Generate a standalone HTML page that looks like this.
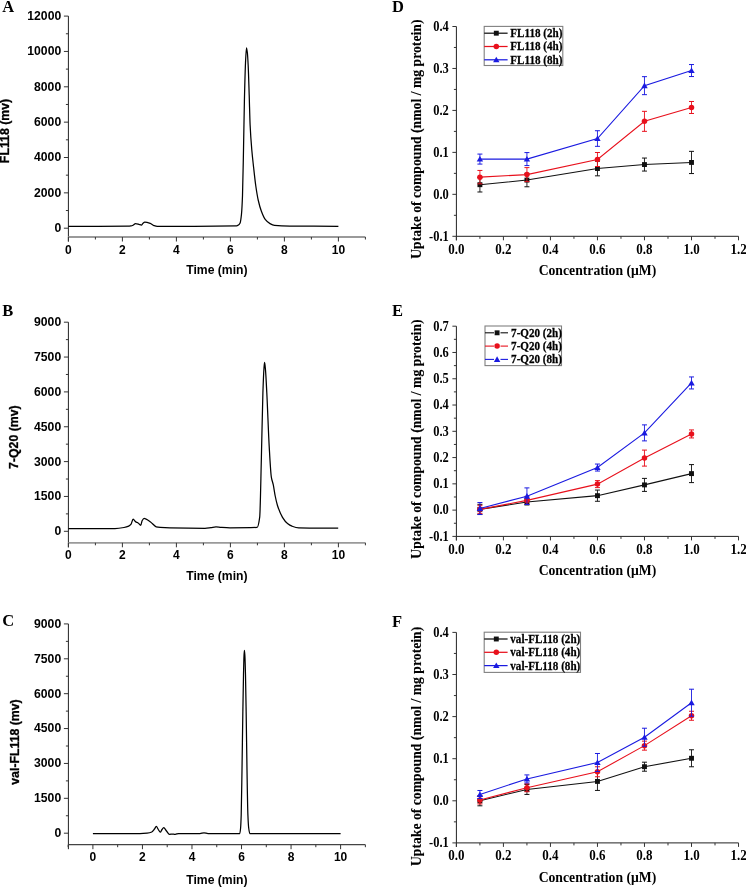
<!DOCTYPE html>
<html><head><meta charset="utf-8"><style>
html,body{margin:0;padding:0;background:#fff;}
body{width:746px;height:887px;overflow:hidden;}
svg{display:block;will-change:transform;}
</style></head><body>
<svg width="746" height="887" viewBox="0 0 746 887">
<rect width="746" height="887" fill="#fff"/>
<line x1="68.40" y1="16.10" x2="68.40" y2="241.50" stroke="#222" stroke-width="1.0"/>
<line x1="63.90" y1="228.20" x2="68.40" y2="228.20" stroke="#333" stroke-width="1.0"/>
<text x="61.20" y="232.10" font-family='"Liberation Sans", sans-serif' font-size="12.2" font-weight="bold" text-anchor="end" fill="#000" >0</text>
<line x1="65.90" y1="210.52" x2="68.40" y2="210.52" stroke="#333" stroke-width="1.0"/>
<line x1="63.90" y1="192.85" x2="68.40" y2="192.85" stroke="#333" stroke-width="1.0"/>
<text x="61.20" y="196.75" font-family='"Liberation Sans", sans-serif' font-size="12.2" font-weight="bold" text-anchor="end" fill="#000" >2000</text>
<line x1="65.90" y1="175.17" x2="68.40" y2="175.17" stroke="#333" stroke-width="1.0"/>
<line x1="63.90" y1="157.50" x2="68.40" y2="157.50" stroke="#333" stroke-width="1.0"/>
<text x="61.20" y="161.40" font-family='"Liberation Sans", sans-serif' font-size="12.2" font-weight="bold" text-anchor="end" fill="#000" >4000</text>
<line x1="65.90" y1="139.82" x2="68.40" y2="139.82" stroke="#333" stroke-width="1.0"/>
<line x1="63.90" y1="122.15" x2="68.40" y2="122.15" stroke="#333" stroke-width="1.0"/>
<text x="61.20" y="126.05" font-family='"Liberation Sans", sans-serif' font-size="12.2" font-weight="bold" text-anchor="end" fill="#000" >6000</text>
<line x1="65.90" y1="104.47" x2="68.40" y2="104.47" stroke="#333" stroke-width="1.0"/>
<line x1="63.90" y1="86.80" x2="68.40" y2="86.80" stroke="#333" stroke-width="1.0"/>
<text x="61.20" y="90.70" font-family='"Liberation Sans", sans-serif' font-size="12.2" font-weight="bold" text-anchor="end" fill="#000" >8000</text>
<line x1="65.90" y1="69.12" x2="68.40" y2="69.12" stroke="#333" stroke-width="1.0"/>
<line x1="63.90" y1="51.45" x2="68.40" y2="51.45" stroke="#333" stroke-width="1.0"/>
<text x="61.20" y="55.35" font-family='"Liberation Sans", sans-serif' font-size="12.2" font-weight="bold" text-anchor="end" fill="#000" >10000</text>
<line x1="65.90" y1="33.78" x2="68.40" y2="33.78" stroke="#333" stroke-width="1.0"/>
<line x1="63.90" y1="16.10" x2="68.40" y2="16.10" stroke="#333" stroke-width="1.0"/>
<text x="61.20" y="20.00" font-family='"Liberation Sans", sans-serif' font-size="12.2" font-weight="bold" text-anchor="end" fill="#000" >12000</text>
<line x1="68.40" y1="237.00" x2="365.40" y2="237.00" stroke="#9a9a9a" stroke-width="1.8"/>
<line x1="68.40" y1="237.00" x2="68.40" y2="241.50" stroke="#333" stroke-width="1.0"/>
<text x="68.40" y="253.60" font-family='"Liberation Sans", sans-serif' font-size="12" font-weight="bold" text-anchor="middle" fill="#000" >0</text>
<line x1="95.40" y1="237.00" x2="95.40" y2="239.50" stroke="#333" stroke-width="1.0"/>
<line x1="122.40" y1="237.00" x2="122.40" y2="241.50" stroke="#333" stroke-width="1.0"/>
<text x="122.40" y="253.60" font-family='"Liberation Sans", sans-serif' font-size="12" font-weight="bold" text-anchor="middle" fill="#000" >2</text>
<line x1="149.40" y1="237.00" x2="149.40" y2="239.50" stroke="#333" stroke-width="1.0"/>
<line x1="176.40" y1="237.00" x2="176.40" y2="241.50" stroke="#333" stroke-width="1.0"/>
<text x="176.40" y="253.60" font-family='"Liberation Sans", sans-serif' font-size="12" font-weight="bold" text-anchor="middle" fill="#000" >4</text>
<line x1="203.40" y1="237.00" x2="203.40" y2="239.50" stroke="#333" stroke-width="1.0"/>
<line x1="230.40" y1="237.00" x2="230.40" y2="241.50" stroke="#333" stroke-width="1.0"/>
<text x="230.40" y="253.60" font-family='"Liberation Sans", sans-serif' font-size="12" font-weight="bold" text-anchor="middle" fill="#000" >6</text>
<line x1="257.40" y1="237.00" x2="257.40" y2="239.50" stroke="#333" stroke-width="1.0"/>
<line x1="284.40" y1="237.00" x2="284.40" y2="241.50" stroke="#333" stroke-width="1.0"/>
<text x="284.40" y="253.60" font-family='"Liberation Sans", sans-serif' font-size="12" font-weight="bold" text-anchor="middle" fill="#000" >8</text>
<line x1="311.40" y1="237.00" x2="311.40" y2="239.50" stroke="#333" stroke-width="1.0"/>
<line x1="338.40" y1="237.00" x2="338.40" y2="241.50" stroke="#333" stroke-width="1.0"/>
<text x="338.40" y="253.60" font-family='"Liberation Sans", sans-serif' font-size="12" font-weight="bold" text-anchor="middle" fill="#000" >10</text>
<line x1="365.40" y1="237.00" x2="365.40" y2="239.50" stroke="#333" stroke-width="1.0"/>
<text x="216.90" y="274.20" font-family='"Liberation Sans", sans-serif' font-size="12.2" font-weight="bold" text-anchor="middle" fill="#000" >Time (min)</text>
<text transform="translate(9.20,131.00) rotate(-90)" x="0" y="0" font-family='"Liberation Sans", sans-serif' font-size="12.3" font-weight="bold" text-anchor="middle" fill="#000" stroke="#000" stroke-width="0.3">FL118 (mv)</text>
<text transform="translate(2.30,12.00) scale(1,1.03)" x="0" y="0" font-family='"Liberation Serif", serif' font-size="16.5" font-weight="bold" text-anchor="start" fill="#000" >A</text>
<path d="M68.40,226.30 C88.27,226.27 108.13,226.29 128.00,226.20 C129.00,226.20 130.00,226.06 131.00,225.90 C131.67,225.79 132.33,225.50 133.00,225.20 C133.83,224.83 134.67,223.60 135.50,223.60 C136.63,223.60 137.77,224.01 138.90,224.30 C139.73,224.51 140.57,225.10 141.40,225.10 C141.93,225.10 142.47,223.63 143.00,223.20 C143.60,222.71 144.20,222.10 144.80,222.10 C146.60,222.10 148.40,222.70 150.20,223.30 C151.47,223.72 152.73,225.20 154.00,225.60 C155.07,225.94 156.13,226.30 157.20,226.30 C183.67,226.30 210.13,226.28 236.60,225.90 C237.23,225.89 237.87,225.37 238.50,224.90 C239.03,224.51 239.57,224.09 240.10,223.00 C240.57,222.05 241.03,218.56 241.50,214.00 C241.83,210.74 242.17,204.41 242.50,195.70 C242.83,186.99 243.17,166.59 243.50,150.00 C243.80,135.07 244.10,113.78 244.40,101.00 C244.77,85.38 245.13,70.69 245.50,63.00 C245.83,56.01 246.17,47.80 246.50,47.80 C246.80,47.80 247.10,50.42 247.40,53.00 C247.67,55.29 247.93,60.50 248.20,66.00 C248.53,72.87 248.87,84.70 249.20,95.00 C249.50,104.27 249.80,118.30 250.10,124.70 C250.67,136.79 251.23,143.37 251.80,150.00 C252.40,157.02 253.00,161.88 253.60,167.30 C254.33,173.93 255.07,180.92 255.80,186.00 C256.63,191.77 257.47,196.83 258.30,200.50 C259.30,204.90 260.30,208.31 261.30,211.00 C262.60,214.50 263.90,217.76 265.20,219.40 C266.80,221.42 268.40,222.76 270.00,223.60 C271.50,224.39 273.00,225.14 274.50,225.30 C279.67,225.85 284.83,226.05 290.00,226.10 C306.13,226.24 322.27,226.23 338.40,226.30" fill="none" stroke="#000" stroke-width="1.25" stroke-linejoin="round"/>
<line x1="68.40" y1="322.20" x2="68.40" y2="547.30" stroke="#222" stroke-width="1.0"/>
<line x1="63.90" y1="531.30" x2="68.40" y2="531.30" stroke="#333" stroke-width="1.0"/>
<text x="61.20" y="535.20" font-family='"Liberation Sans", sans-serif' font-size="12.2" font-weight="bold" text-anchor="end" fill="#000" >0</text>
<line x1="65.90" y1="513.88" x2="68.40" y2="513.88" stroke="#333" stroke-width="1.0"/>
<line x1="63.90" y1="496.45" x2="68.40" y2="496.45" stroke="#333" stroke-width="1.0"/>
<text x="61.20" y="500.35" font-family='"Liberation Sans", sans-serif' font-size="12.2" font-weight="bold" text-anchor="end" fill="#000" >1500</text>
<line x1="65.90" y1="479.02" x2="68.40" y2="479.02" stroke="#333" stroke-width="1.0"/>
<line x1="63.90" y1="461.60" x2="68.40" y2="461.60" stroke="#333" stroke-width="1.0"/>
<text x="61.20" y="465.50" font-family='"Liberation Sans", sans-serif' font-size="12.2" font-weight="bold" text-anchor="end" fill="#000" >3000</text>
<line x1="65.90" y1="444.17" x2="68.40" y2="444.17" stroke="#333" stroke-width="1.0"/>
<line x1="63.90" y1="426.75" x2="68.40" y2="426.75" stroke="#333" stroke-width="1.0"/>
<text x="61.20" y="430.65" font-family='"Liberation Sans", sans-serif' font-size="12.2" font-weight="bold" text-anchor="end" fill="#000" >4500</text>
<line x1="65.90" y1="409.32" x2="68.40" y2="409.32" stroke="#333" stroke-width="1.0"/>
<line x1="63.90" y1="391.90" x2="68.40" y2="391.90" stroke="#333" stroke-width="1.0"/>
<text x="61.20" y="395.80" font-family='"Liberation Sans", sans-serif' font-size="12.2" font-weight="bold" text-anchor="end" fill="#000" >6000</text>
<line x1="65.90" y1="374.47" x2="68.40" y2="374.47" stroke="#333" stroke-width="1.0"/>
<line x1="63.90" y1="357.05" x2="68.40" y2="357.05" stroke="#333" stroke-width="1.0"/>
<text x="61.20" y="360.95" font-family='"Liberation Sans", sans-serif' font-size="12.2" font-weight="bold" text-anchor="end" fill="#000" >7500</text>
<line x1="65.90" y1="339.62" x2="68.40" y2="339.62" stroke="#333" stroke-width="1.0"/>
<line x1="63.90" y1="322.20" x2="68.40" y2="322.20" stroke="#333" stroke-width="1.0"/>
<text x="61.20" y="326.10" font-family='"Liberation Sans", sans-serif' font-size="12.2" font-weight="bold" text-anchor="end" fill="#000" >9000</text>
<line x1="68.40" y1="542.80" x2="365.40" y2="542.80" stroke="#9a9a9a" stroke-width="1.8"/>
<line x1="68.40" y1="542.80" x2="68.40" y2="547.30" stroke="#333" stroke-width="1.0"/>
<text x="68.40" y="559.40" font-family='"Liberation Sans", sans-serif' font-size="12" font-weight="bold" text-anchor="middle" fill="#000" >0</text>
<line x1="95.40" y1="542.80" x2="95.40" y2="545.30" stroke="#333" stroke-width="1.0"/>
<line x1="122.40" y1="542.80" x2="122.40" y2="547.30" stroke="#333" stroke-width="1.0"/>
<text x="122.40" y="559.40" font-family='"Liberation Sans", sans-serif' font-size="12" font-weight="bold" text-anchor="middle" fill="#000" >2</text>
<line x1="149.40" y1="542.80" x2="149.40" y2="545.30" stroke="#333" stroke-width="1.0"/>
<line x1="176.40" y1="542.80" x2="176.40" y2="547.30" stroke="#333" stroke-width="1.0"/>
<text x="176.40" y="559.40" font-family='"Liberation Sans", sans-serif' font-size="12" font-weight="bold" text-anchor="middle" fill="#000" >4</text>
<line x1="203.40" y1="542.80" x2="203.40" y2="545.30" stroke="#333" stroke-width="1.0"/>
<line x1="230.40" y1="542.80" x2="230.40" y2="547.30" stroke="#333" stroke-width="1.0"/>
<text x="230.40" y="559.40" font-family='"Liberation Sans", sans-serif' font-size="12" font-weight="bold" text-anchor="middle" fill="#000" >6</text>
<line x1="257.40" y1="542.80" x2="257.40" y2="545.30" stroke="#333" stroke-width="1.0"/>
<line x1="284.40" y1="542.80" x2="284.40" y2="547.30" stroke="#333" stroke-width="1.0"/>
<text x="284.40" y="559.40" font-family='"Liberation Sans", sans-serif' font-size="12" font-weight="bold" text-anchor="middle" fill="#000" >8</text>
<line x1="311.40" y1="542.80" x2="311.40" y2="545.30" stroke="#333" stroke-width="1.0"/>
<line x1="338.40" y1="542.80" x2="338.40" y2="547.30" stroke="#333" stroke-width="1.0"/>
<text x="338.40" y="559.40" font-family='"Liberation Sans", sans-serif' font-size="12" font-weight="bold" text-anchor="middle" fill="#000" >10</text>
<line x1="365.40" y1="542.80" x2="365.40" y2="545.30" stroke="#333" stroke-width="1.0"/>
<text x="216.90" y="580.20" font-family='"Liberation Sans", sans-serif' font-size="12.2" font-weight="bold" text-anchor="middle" fill="#000" >Time (min)</text>
<text transform="translate(17.60,437.10) rotate(-90)" x="0" y="0" font-family='"Liberation Sans", sans-serif' font-size="12.3" font-weight="bold" text-anchor="middle" fill="#000" stroke="#000" stroke-width="0.3">7-Q20 (mv)</text>
<text transform="translate(2.30,316.00) scale(1,1.03)" x="0" y="0" font-family='"Liberation Serif", serif' font-size="16.5" font-weight="bold" text-anchor="start" fill="#000" >B</text>
<path d="M68.40,528.70 C83.93,528.63 99.47,528.66 115.00,528.50 C118.00,528.47 121.00,528.01 124.00,527.50 C125.57,527.23 127.13,526.82 128.70,526.10 C129.50,525.73 130.30,525.12 131.10,524.10 C131.77,523.25 132.43,519.10 133.10,519.10 C134.00,519.10 134.90,521.39 135.80,521.90 C136.47,522.28 137.13,522.34 137.80,522.70 C138.80,523.23 139.80,525.30 140.80,525.30 C141.23,525.30 141.67,521.48 142.10,520.70 C142.77,519.50 143.43,518.40 144.10,518.40 C145.67,518.40 147.23,519.74 148.80,520.70 C149.93,521.40 151.07,522.47 152.20,523.40 C153.53,524.49 154.87,526.46 156.20,526.80 C157.53,527.14 158.87,527.29 160.20,527.40 C163.47,527.67 166.73,527.83 170.00,527.90 C181.67,528.15 193.33,528.30 205.00,528.30 C207.00,528.30 209.00,527.86 211.00,527.60 C212.67,527.39 214.33,526.90 216.00,526.90 C217.67,526.90 219.33,527.29 221.00,527.40 C224.00,527.59 227.00,527.80 230.00,527.80 C239.03,527.80 248.07,527.77 257.10,527.40 C257.97,527.36 258.83,523.64 259.70,517.10 C260.27,512.83 260.83,479.08 261.40,457.10 C261.90,437.70 262.40,407.34 262.90,392.80 C263.27,382.14 263.63,372.65 264.00,368.00 C264.20,365.46 264.40,362.40 264.60,362.40 C264.90,362.40 265.20,366.65 265.50,370.00 C265.93,374.84 266.37,384.39 266.80,392.80 C267.60,408.33 268.40,432.41 269.20,446.40 C269.90,458.64 270.60,472.39 271.30,476.80 C271.97,481.00 272.63,481.71 273.30,484.90 C273.93,487.93 274.57,492.90 275.20,496.00 C275.93,499.59 276.67,502.90 277.40,505.20 C279.10,510.54 280.80,514.53 282.50,517.30 C284.17,520.01 285.83,522.16 287.50,523.50 C289.00,524.71 290.50,525.65 292.00,526.20 C294.23,527.02 296.47,527.86 298.70,527.90 C311.87,528.15 325.03,528.10 338.20,528.20" fill="none" stroke="#000" stroke-width="1.25" stroke-linejoin="round"/>
<line x1="68.40" y1="623.92" x2="68.40" y2="849.20" stroke="#222" stroke-width="1.0"/>
<line x1="63.90" y1="833.20" x2="68.40" y2="833.20" stroke="#333" stroke-width="1.0"/>
<text x="61.20" y="837.10" font-family='"Liberation Sans", sans-serif' font-size="12.2" font-weight="bold" text-anchor="end" fill="#000" >0</text>
<line x1="65.90" y1="815.76" x2="68.40" y2="815.76" stroke="#333" stroke-width="1.0"/>
<line x1="63.90" y1="798.32" x2="68.40" y2="798.32" stroke="#333" stroke-width="1.0"/>
<text x="61.20" y="802.22" font-family='"Liberation Sans", sans-serif' font-size="12.2" font-weight="bold" text-anchor="end" fill="#000" >1500</text>
<line x1="65.90" y1="780.88" x2="68.40" y2="780.88" stroke="#333" stroke-width="1.0"/>
<line x1="63.90" y1="763.44" x2="68.40" y2="763.44" stroke="#333" stroke-width="1.0"/>
<text x="61.20" y="767.34" font-family='"Liberation Sans", sans-serif' font-size="12.2" font-weight="bold" text-anchor="end" fill="#000" >3000</text>
<line x1="65.90" y1="746.00" x2="68.40" y2="746.00" stroke="#333" stroke-width="1.0"/>
<line x1="63.90" y1="728.56" x2="68.40" y2="728.56" stroke="#333" stroke-width="1.0"/>
<text x="61.20" y="732.46" font-family='"Liberation Sans", sans-serif' font-size="12.2" font-weight="bold" text-anchor="end" fill="#000" >4500</text>
<line x1="65.90" y1="711.12" x2="68.40" y2="711.12" stroke="#333" stroke-width="1.0"/>
<line x1="63.90" y1="693.68" x2="68.40" y2="693.68" stroke="#333" stroke-width="1.0"/>
<text x="61.20" y="697.58" font-family='"Liberation Sans", sans-serif' font-size="12.2" font-weight="bold" text-anchor="end" fill="#000" >6000</text>
<line x1="65.90" y1="676.24" x2="68.40" y2="676.24" stroke="#333" stroke-width="1.0"/>
<line x1="63.90" y1="658.80" x2="68.40" y2="658.80" stroke="#333" stroke-width="1.0"/>
<text x="61.20" y="662.70" font-family='"Liberation Sans", sans-serif' font-size="12.2" font-weight="bold" text-anchor="end" fill="#000" >7500</text>
<line x1="65.90" y1="641.36" x2="68.40" y2="641.36" stroke="#333" stroke-width="1.0"/>
<line x1="63.90" y1="623.92" x2="68.40" y2="623.92" stroke="#333" stroke-width="1.0"/>
<text x="61.20" y="627.82" font-family='"Liberation Sans", sans-serif' font-size="12.2" font-weight="bold" text-anchor="end" fill="#000" >9000</text>
<line x1="68.40" y1="844.70" x2="365.37" y2="844.70" stroke="#444" stroke-width="1.3"/>
<line x1="68.13" y1="844.70" x2="68.13" y2="847.20" stroke="#333" stroke-width="1.0"/>
<line x1="92.90" y1="844.70" x2="92.90" y2="849.20" stroke="#333" stroke-width="1.0"/>
<text x="92.90" y="861.30" font-family='"Liberation Sans", sans-serif' font-size="12" font-weight="bold" text-anchor="middle" fill="#000" >0</text>
<line x1="117.67" y1="844.70" x2="117.67" y2="847.20" stroke="#333" stroke-width="1.0"/>
<line x1="142.44" y1="844.70" x2="142.44" y2="849.20" stroke="#333" stroke-width="1.0"/>
<text x="142.44" y="861.30" font-family='"Liberation Sans", sans-serif' font-size="12" font-weight="bold" text-anchor="middle" fill="#000" >2</text>
<line x1="167.21" y1="844.70" x2="167.21" y2="847.20" stroke="#333" stroke-width="1.0"/>
<line x1="191.98" y1="844.70" x2="191.98" y2="849.20" stroke="#333" stroke-width="1.0"/>
<text x="191.98" y="861.30" font-family='"Liberation Sans", sans-serif' font-size="12" font-weight="bold" text-anchor="middle" fill="#000" >4</text>
<line x1="216.75" y1="844.70" x2="216.75" y2="847.20" stroke="#333" stroke-width="1.0"/>
<line x1="241.52" y1="844.70" x2="241.52" y2="849.20" stroke="#333" stroke-width="1.0"/>
<text x="241.52" y="861.30" font-family='"Liberation Sans", sans-serif' font-size="12" font-weight="bold" text-anchor="middle" fill="#000" >6</text>
<line x1="266.29" y1="844.70" x2="266.29" y2="847.20" stroke="#333" stroke-width="1.0"/>
<line x1="291.06" y1="844.70" x2="291.06" y2="849.20" stroke="#333" stroke-width="1.0"/>
<text x="291.06" y="861.30" font-family='"Liberation Sans", sans-serif' font-size="12" font-weight="bold" text-anchor="middle" fill="#000" >8</text>
<line x1="315.83" y1="844.70" x2="315.83" y2="847.20" stroke="#333" stroke-width="1.0"/>
<line x1="340.60" y1="844.70" x2="340.60" y2="849.20" stroke="#333" stroke-width="1.0"/>
<text x="340.60" y="861.30" font-family='"Liberation Sans", sans-serif' font-size="12" font-weight="bold" text-anchor="middle" fill="#000" >10</text>
<line x1="365.37" y1="844.70" x2="365.37" y2="847.20" stroke="#333" stroke-width="1.0"/>
<text x="216.90" y="884.30" font-family='"Liberation Sans", sans-serif' font-size="12.2" font-weight="bold" text-anchor="middle" fill="#000" >Time (min)</text>
<text transform="translate(18.70,742.00) rotate(-90)" x="0" y="0" font-family='"Liberation Sans", sans-serif' font-size="12.3" font-weight="bold" text-anchor="middle" fill="#000" stroke="#000" stroke-width="0.3">val-FL118 (mv)</text>
<text transform="translate(2.30,626.30) scale(1,1.03)" x="0" y="0" font-family='"Liberation Serif", serif' font-size="16.5" font-weight="bold" text-anchor="start" fill="#000" >C</text>
<path d="M92.90,833.60 C108.60,833.57 124.30,833.58 140.00,833.50 C142.37,833.49 144.73,833.32 147.10,833.10 C148.67,832.95 150.23,832.64 151.80,832.00 C152.70,831.63 153.60,830.14 154.50,829.00 C155.10,828.24 155.70,826.40 156.30,826.40 C156.97,826.40 157.63,828.54 158.30,829.50 C158.97,830.46 159.63,832.20 160.30,832.20 C160.87,832.20 161.43,830.24 162.00,829.50 C162.57,828.76 163.13,827.60 163.70,827.60 C164.63,827.60 165.57,829.91 166.50,831.00 C167.50,832.17 168.50,834.40 169.50,834.40 C170.33,834.40 171.17,834.00 172.00,834.00 C173.07,834.00 174.13,834.40 175.20,834.40 C176.33,834.40 177.47,833.50 178.60,833.50 C185.73,833.50 192.87,833.60 200.00,833.60 C201.33,833.60 202.67,832.80 204.00,832.80 C205.33,832.80 206.67,833.50 208.00,833.50 C218.60,833.50 229.20,833.50 239.80,833.50 C240.07,833.50 240.33,830.85 240.60,828.00 C240.80,825.86 241.00,821.13 241.20,815.00 C241.47,806.83 241.73,786.50 242.00,770.00 C242.27,753.50 242.53,731.61 242.80,715.00 C243.03,700.47 243.27,685.53 243.50,675.00 C243.67,667.48 243.83,659.40 244.00,656.00 C244.13,653.28 244.27,650.30 244.40,650.30 C244.57,650.30 244.73,653.25 244.90,656.00 C245.10,659.31 245.30,666.91 245.50,675.00 C245.73,684.44 245.97,700.47 246.20,715.00 C246.47,731.61 246.73,754.51 247.00,770.00 C247.30,787.42 247.60,807.71 247.90,815.00 C248.17,821.48 248.43,825.90 248.70,828.00 C249.07,830.88 249.43,833.50 249.80,833.50 C280.07,833.70 310.33,833.63 340.60,833.70" fill="none" stroke="#000" stroke-width="1.25" stroke-linejoin="round"/>
<line x1="456.40" y1="26.50" x2="456.40" y2="240.30" stroke="#222" stroke-width="1.0"/>
<line x1="456.40" y1="236.30" x2="738.52" y2="236.30" stroke="#222" stroke-width="1.0"/>
<line x1="452.40" y1="236.30" x2="456.40" y2="236.30" stroke="#333" stroke-width="1.0"/>
<text transform="translate(448.80,240.60) scale(1,1.1)" x="0" y="0" font-family='"Liberation Serif", serif' font-size="12.5" font-weight="bold" text-anchor="end" fill="#000" >-0.1</text>
<line x1="453.90" y1="215.32" x2="456.40" y2="215.32" stroke="#333" stroke-width="1.0"/>
<line x1="452.40" y1="194.34" x2="456.40" y2="194.34" stroke="#333" stroke-width="1.0"/>
<text transform="translate(448.80,198.64) scale(1,1.1)" x="0" y="0" font-family='"Liberation Serif", serif' font-size="12.5" font-weight="bold" text-anchor="end" fill="#000" >0.0</text>
<line x1="453.90" y1="173.36" x2="456.40" y2="173.36" stroke="#333" stroke-width="1.0"/>
<line x1="452.40" y1="152.38" x2="456.40" y2="152.38" stroke="#333" stroke-width="1.0"/>
<text transform="translate(448.80,156.68) scale(1,1.1)" x="0" y="0" font-family='"Liberation Serif", serif' font-size="12.5" font-weight="bold" text-anchor="end" fill="#000" >0.1</text>
<line x1="453.90" y1="131.40" x2="456.40" y2="131.40" stroke="#333" stroke-width="1.0"/>
<line x1="452.40" y1="110.42" x2="456.40" y2="110.42" stroke="#333" stroke-width="1.0"/>
<text transform="translate(448.80,114.72) scale(1,1.1)" x="0" y="0" font-family='"Liberation Serif", serif' font-size="12.5" font-weight="bold" text-anchor="end" fill="#000" >0.2</text>
<line x1="453.90" y1="89.44" x2="456.40" y2="89.44" stroke="#333" stroke-width="1.0"/>
<line x1="452.40" y1="68.46" x2="456.40" y2="68.46" stroke="#333" stroke-width="1.0"/>
<text transform="translate(448.80,72.76) scale(1,1.1)" x="0" y="0" font-family='"Liberation Serif", serif' font-size="12.5" font-weight="bold" text-anchor="end" fill="#000" >0.3</text>
<line x1="453.90" y1="47.48" x2="456.40" y2="47.48" stroke="#333" stroke-width="1.0"/>
<line x1="452.40" y1="26.50" x2="456.40" y2="26.50" stroke="#333" stroke-width="1.0"/>
<text transform="translate(448.80,30.80) scale(1,1.1)" x="0" y="0" font-family='"Liberation Serif", serif' font-size="12.5" font-weight="bold" text-anchor="end" fill="#000" >0.4</text>
<line x1="456.40" y1="236.30" x2="456.40" y2="240.30" stroke="#333" stroke-width="1.0"/>
<text transform="translate(456.40,253.50) scale(1,1.07)" x="0" y="0" font-family='"Liberation Serif", serif' font-size="13" font-weight="bold" text-anchor="middle" fill="#000" >0.0</text>
<line x1="479.91" y1="236.30" x2="479.91" y2="238.80" stroke="#333" stroke-width="1.0"/>
<line x1="503.42" y1="236.30" x2="503.42" y2="240.30" stroke="#333" stroke-width="1.0"/>
<text transform="translate(503.42,253.50) scale(1,1.07)" x="0" y="0" font-family='"Liberation Serif", serif' font-size="13" font-weight="bold" text-anchor="middle" fill="#000" >0.2</text>
<line x1="526.93" y1="236.30" x2="526.93" y2="238.80" stroke="#333" stroke-width="1.0"/>
<line x1="550.44" y1="236.30" x2="550.44" y2="240.30" stroke="#333" stroke-width="1.0"/>
<text transform="translate(550.44,253.50) scale(1,1.07)" x="0" y="0" font-family='"Liberation Serif", serif' font-size="13" font-weight="bold" text-anchor="middle" fill="#000" >0.4</text>
<line x1="573.95" y1="236.30" x2="573.95" y2="238.80" stroke="#333" stroke-width="1.0"/>
<line x1="597.46" y1="236.30" x2="597.46" y2="240.30" stroke="#333" stroke-width="1.0"/>
<text transform="translate(597.46,253.50) scale(1,1.07)" x="0" y="0" font-family='"Liberation Serif", serif' font-size="13" font-weight="bold" text-anchor="middle" fill="#000" >0.6</text>
<line x1="620.97" y1="236.30" x2="620.97" y2="238.80" stroke="#333" stroke-width="1.0"/>
<line x1="644.48" y1="236.30" x2="644.48" y2="240.30" stroke="#333" stroke-width="1.0"/>
<text transform="translate(644.48,253.50) scale(1,1.07)" x="0" y="0" font-family='"Liberation Serif", serif' font-size="13" font-weight="bold" text-anchor="middle" fill="#000" >0.8</text>
<line x1="667.99" y1="236.30" x2="667.99" y2="238.80" stroke="#333" stroke-width="1.0"/>
<line x1="691.50" y1="236.30" x2="691.50" y2="240.30" stroke="#333" stroke-width="1.0"/>
<text transform="translate(691.50,253.50) scale(1,1.07)" x="0" y="0" font-family='"Liberation Serif", serif' font-size="13" font-weight="bold" text-anchor="middle" fill="#000" >1.0</text>
<line x1="715.01" y1="236.30" x2="715.01" y2="238.80" stroke="#333" stroke-width="1.0"/>
<line x1="738.52" y1="236.30" x2="738.52" y2="240.30" stroke="#333" stroke-width="1.0"/>
<text transform="translate(738.52,253.50) scale(1,1.07)" x="0" y="0" font-family='"Liberation Serif", serif' font-size="13" font-weight="bold" text-anchor="middle" fill="#000" >1.2</text>
<text x="597.46" y="275.20" font-family='"Liberation Serif", serif' font-size="13.7" font-weight="bold" text-anchor="middle" fill="#000" >Concentration (&#956;M)</text>
<text transform="translate(421.40,139.20) rotate(-90)" x="0" y="0" font-family='"Liberation Serif", serif' font-size="13.7" font-weight="bold" text-anchor="middle" fill="#000" stroke="#000" stroke-width="0.1">Uptake of compound (nmol / mg protein)</text>
<text transform="translate(392.00,12.00) scale(1,1.03)" x="0" y="0" font-family='"Liberation Serif", serif' font-size="16.5" font-weight="bold" text-anchor="start" fill="#000" >D</text>
<path d="M479.91,184.69 L526.93,180.07 L597.46,168.53 L644.48,164.55 L691.50,162.45" fill="none" stroke="#111111" stroke-width="1.1"/>
<line x1="479.91" y1="177.39" x2="479.91" y2="191.99" stroke="#111111" stroke-width="0.9"/>
<line x1="477.41" y1="177.39" x2="482.41" y2="177.39" stroke="#111111" stroke-width="1.0"/>
<line x1="477.41" y1="191.99" x2="482.41" y2="191.99" stroke="#111111" stroke-width="1.0"/>
<line x1="526.93" y1="173.37" x2="526.93" y2="186.77" stroke="#111111" stroke-width="0.9"/>
<line x1="524.43" y1="173.37" x2="529.43" y2="173.37" stroke="#111111" stroke-width="1.0"/>
<line x1="524.43" y1="186.77" x2="529.43" y2="186.77" stroke="#111111" stroke-width="1.0"/>
<line x1="597.46" y1="161.23" x2="597.46" y2="175.83" stroke="#111111" stroke-width="0.9"/>
<line x1="594.96" y1="161.23" x2="599.96" y2="161.23" stroke="#111111" stroke-width="1.0"/>
<line x1="594.96" y1="175.83" x2="599.96" y2="175.83" stroke="#111111" stroke-width="1.0"/>
<line x1="644.48" y1="158.05" x2="644.48" y2="171.05" stroke="#111111" stroke-width="0.9"/>
<line x1="641.98" y1="158.05" x2="646.98" y2="158.05" stroke="#111111" stroke-width="1.0"/>
<line x1="641.98" y1="171.05" x2="646.98" y2="171.05" stroke="#111111" stroke-width="1.0"/>
<line x1="691.50" y1="151.35" x2="691.50" y2="173.55" stroke="#111111" stroke-width="0.9"/>
<line x1="689.00" y1="151.35" x2="694.00" y2="151.35" stroke="#111111" stroke-width="1.0"/>
<line x1="689.00" y1="173.55" x2="694.00" y2="173.55" stroke="#111111" stroke-width="1.0"/>
<rect x="477.46" y="182.24" width="4.9" height="4.9" fill="#111111"/>
<rect x="524.48" y="177.62" width="4.9" height="4.9" fill="#111111"/>
<rect x="595.01" y="166.08" width="4.9" height="4.9" fill="#111111"/>
<rect x="642.03" y="162.10" width="4.9" height="4.9" fill="#111111"/>
<rect x="689.05" y="160.00" width="4.9" height="4.9" fill="#111111"/>
<path d="M479.91,177.14 L526.93,174.62 L597.46,159.51 L644.48,121.33 L691.50,107.48" fill="none" stroke="#e8101c" stroke-width="1.1"/>
<line x1="479.91" y1="170.44" x2="479.91" y2="183.84" stroke="#e8101c" stroke-width="0.9"/>
<line x1="477.41" y1="170.44" x2="482.41" y2="170.44" stroke="#e8101c" stroke-width="1.0"/>
<line x1="477.41" y1="183.84" x2="482.41" y2="183.84" stroke="#e8101c" stroke-width="1.0"/>
<line x1="526.93" y1="167.62" x2="526.93" y2="181.62" stroke="#e8101c" stroke-width="0.9"/>
<line x1="524.43" y1="167.62" x2="529.43" y2="167.62" stroke="#e8101c" stroke-width="1.0"/>
<line x1="524.43" y1="181.62" x2="529.43" y2="181.62" stroke="#e8101c" stroke-width="1.0"/>
<line x1="597.46" y1="152.51" x2="597.46" y2="166.51" stroke="#e8101c" stroke-width="0.9"/>
<line x1="594.96" y1="152.51" x2="599.96" y2="152.51" stroke="#e8101c" stroke-width="1.0"/>
<line x1="594.96" y1="166.51" x2="599.96" y2="166.51" stroke="#e8101c" stroke-width="1.0"/>
<line x1="644.48" y1="111.33" x2="644.48" y2="131.33" stroke="#e8101c" stroke-width="0.9"/>
<line x1="641.98" y1="111.33" x2="646.98" y2="111.33" stroke="#e8101c" stroke-width="1.0"/>
<line x1="641.98" y1="131.33" x2="646.98" y2="131.33" stroke="#e8101c" stroke-width="1.0"/>
<line x1="691.50" y1="101.48" x2="691.50" y2="113.48" stroke="#e8101c" stroke-width="0.9"/>
<line x1="689.00" y1="101.48" x2="694.00" y2="101.48" stroke="#e8101c" stroke-width="1.0"/>
<line x1="689.00" y1="113.48" x2="694.00" y2="113.48" stroke="#e8101c" stroke-width="1.0"/>
<circle cx="479.91" cy="177.14" r="2.75" fill="#e8101c"/>
<circle cx="526.93" cy="174.62" r="2.75" fill="#e8101c"/>
<circle cx="597.46" cy="159.51" r="2.75" fill="#e8101c"/>
<circle cx="644.48" cy="121.33" r="2.75" fill="#e8101c"/>
<circle cx="691.50" cy="107.48" r="2.75" fill="#e8101c"/>
<path d="M479.91,159.09 L526.93,159.09 L597.46,138.53 L644.48,85.66 L691.50,70.56" fill="none" stroke="#1a1ae0" stroke-width="1.1"/>
<line x1="479.91" y1="154.09" x2="479.91" y2="164.09" stroke="#1a1ae0" stroke-width="0.9"/>
<line x1="477.41" y1="154.09" x2="482.41" y2="154.09" stroke="#1a1ae0" stroke-width="1.0"/>
<line x1="477.41" y1="164.09" x2="482.41" y2="164.09" stroke="#1a1ae0" stroke-width="1.0"/>
<line x1="526.93" y1="152.59" x2="526.93" y2="165.59" stroke="#1a1ae0" stroke-width="0.9"/>
<line x1="524.43" y1="152.59" x2="529.43" y2="152.59" stroke="#1a1ae0" stroke-width="1.0"/>
<line x1="524.43" y1="165.59" x2="529.43" y2="165.59" stroke="#1a1ae0" stroke-width="1.0"/>
<line x1="597.46" y1="130.73" x2="597.46" y2="146.33" stroke="#1a1ae0" stroke-width="0.9"/>
<line x1="594.96" y1="130.73" x2="599.96" y2="130.73" stroke="#1a1ae0" stroke-width="1.0"/>
<line x1="594.96" y1="146.33" x2="599.96" y2="146.33" stroke="#1a1ae0" stroke-width="1.0"/>
<line x1="644.48" y1="76.66" x2="644.48" y2="94.66" stroke="#1a1ae0" stroke-width="0.9"/>
<line x1="641.98" y1="76.66" x2="646.98" y2="76.66" stroke="#1a1ae0" stroke-width="1.0"/>
<line x1="641.98" y1="94.66" x2="646.98" y2="94.66" stroke="#1a1ae0" stroke-width="1.0"/>
<line x1="691.50" y1="64.56" x2="691.50" y2="76.56" stroke="#1a1ae0" stroke-width="0.9"/>
<line x1="689.00" y1="64.56" x2="694.00" y2="64.56" stroke="#1a1ae0" stroke-width="1.0"/>
<line x1="689.00" y1="76.56" x2="694.00" y2="76.56" stroke="#1a1ae0" stroke-width="1.0"/>
<path d="M476.71,161.59 L483.11,161.59 L479.91,155.99 Z" fill="#1a1ae0"/>
<path d="M523.73,161.59 L530.13,161.59 L526.93,155.99 Z" fill="#1a1ae0"/>
<path d="M594.26,141.03 L600.66,141.03 L597.46,135.43 Z" fill="#1a1ae0"/>
<path d="M641.28,88.16 L647.68,88.16 L644.48,82.56 Z" fill="#1a1ae0"/>
<path d="M688.30,73.06 L694.70,73.06 L691.50,67.46 Z" fill="#1a1ae0"/>
<rect x="484.20" y="26.40" width="78.60" height="39.10" fill="#fff" stroke="#808080" stroke-width="1.1"/>
<line x1="484.20" y1="33.20" x2="507.60" y2="33.20" stroke="#111111" stroke-width="1.25"/>
<rect x="493.85" y="30.75" width="4.9" height="4.9" fill="#111111"/>
<text transform="translate(510.30,37.10) scale(1,1.05)" x="0" y="0" font-family='"Liberation Serif", serif' font-size="11.1" font-weight="bold" text-anchor="start" fill="#000" stroke="#000" stroke-width="0.25">FL118 (2h)</text>
<line x1="484.20" y1="46.50" x2="507.60" y2="46.50" stroke="#e8101c" stroke-width="1.25"/>
<circle cx="496.30" cy="46.50" r="2.75" fill="#e8101c"/>
<text transform="translate(510.30,50.40) scale(1,1.05)" x="0" y="0" font-family='"Liberation Serif", serif' font-size="11.1" font-weight="bold" text-anchor="start" fill="#000" stroke="#000" stroke-width="0.25">FL118 (4h)</text>
<line x1="484.20" y1="59.80" x2="507.60" y2="59.80" stroke="#1a1ae0" stroke-width="1.25"/>
<path d="M493.10,62.30 L499.50,62.30 L496.30,56.70 Z" fill="#1a1ae0"/>
<text transform="translate(510.30,63.70) scale(1,1.05)" x="0" y="0" font-family='"Liberation Serif", serif' font-size="11.1" font-weight="bold" text-anchor="start" fill="#000" stroke="#000" stroke-width="0.25">FL118 (8h)</text>
<line x1="456.40" y1="326.20" x2="456.40" y2="540.40" stroke="#222" stroke-width="1.0"/>
<line x1="456.40" y1="536.40" x2="738.52" y2="536.40" stroke="#222" stroke-width="1.0"/>
<line x1="452.40" y1="536.40" x2="456.40" y2="536.40" stroke="#333" stroke-width="1.0"/>
<text transform="translate(448.80,540.70) scale(1,1.1)" x="0" y="0" font-family='"Liberation Serif", serif' font-size="12.5" font-weight="bold" text-anchor="end" fill="#000" >-0.1</text>
<line x1="453.90" y1="523.26" x2="456.40" y2="523.26" stroke="#333" stroke-width="1.0"/>
<line x1="452.40" y1="510.12" x2="456.40" y2="510.12" stroke="#333" stroke-width="1.0"/>
<text transform="translate(448.80,514.42) scale(1,1.1)" x="0" y="0" font-family='"Liberation Serif", serif' font-size="12.5" font-weight="bold" text-anchor="end" fill="#000" >0.0</text>
<line x1="453.90" y1="496.99" x2="456.40" y2="496.99" stroke="#333" stroke-width="1.0"/>
<line x1="452.40" y1="483.85" x2="456.40" y2="483.85" stroke="#333" stroke-width="1.0"/>
<text transform="translate(448.80,488.15) scale(1,1.1)" x="0" y="0" font-family='"Liberation Serif", serif' font-size="12.5" font-weight="bold" text-anchor="end" fill="#000" >0.1</text>
<line x1="453.90" y1="470.71" x2="456.40" y2="470.71" stroke="#333" stroke-width="1.0"/>
<line x1="452.40" y1="457.57" x2="456.40" y2="457.57" stroke="#333" stroke-width="1.0"/>
<text transform="translate(448.80,461.88) scale(1,1.1)" x="0" y="0" font-family='"Liberation Serif", serif' font-size="12.5" font-weight="bold" text-anchor="end" fill="#000" >0.2</text>
<line x1="453.90" y1="444.44" x2="456.40" y2="444.44" stroke="#333" stroke-width="1.0"/>
<line x1="452.40" y1="431.30" x2="456.40" y2="431.30" stroke="#333" stroke-width="1.0"/>
<text transform="translate(448.80,435.60) scale(1,1.1)" x="0" y="0" font-family='"Liberation Serif", serif' font-size="12.5" font-weight="bold" text-anchor="end" fill="#000" >0.3</text>
<line x1="453.90" y1="418.16" x2="456.40" y2="418.16" stroke="#333" stroke-width="1.0"/>
<line x1="452.40" y1="405.02" x2="456.40" y2="405.02" stroke="#333" stroke-width="1.0"/>
<text transform="translate(448.80,409.32) scale(1,1.1)" x="0" y="0" font-family='"Liberation Serif", serif' font-size="12.5" font-weight="bold" text-anchor="end" fill="#000" >0.4</text>
<line x1="453.90" y1="391.89" x2="456.40" y2="391.89" stroke="#333" stroke-width="1.0"/>
<line x1="452.40" y1="378.75" x2="456.40" y2="378.75" stroke="#333" stroke-width="1.0"/>
<text transform="translate(448.80,383.05) scale(1,1.1)" x="0" y="0" font-family='"Liberation Serif", serif' font-size="12.5" font-weight="bold" text-anchor="end" fill="#000" >0.5</text>
<line x1="453.90" y1="365.61" x2="456.40" y2="365.61" stroke="#333" stroke-width="1.0"/>
<line x1="452.40" y1="352.48" x2="456.40" y2="352.48" stroke="#333" stroke-width="1.0"/>
<text transform="translate(448.80,356.78) scale(1,1.1)" x="0" y="0" font-family='"Liberation Serif", serif' font-size="12.5" font-weight="bold" text-anchor="end" fill="#000" >0.6</text>
<line x1="453.90" y1="339.34" x2="456.40" y2="339.34" stroke="#333" stroke-width="1.0"/>
<line x1="452.40" y1="326.20" x2="456.40" y2="326.20" stroke="#333" stroke-width="1.0"/>
<text transform="translate(448.80,330.50) scale(1,1.1)" x="0" y="0" font-family='"Liberation Serif", serif' font-size="12.5" font-weight="bold" text-anchor="end" fill="#000" >0.7</text>
<line x1="456.40" y1="536.40" x2="456.40" y2="540.40" stroke="#333" stroke-width="1.0"/>
<text transform="translate(456.40,553.60) scale(1,1.07)" x="0" y="0" font-family='"Liberation Serif", serif' font-size="13" font-weight="bold" text-anchor="middle" fill="#000" >0.0</text>
<line x1="479.91" y1="536.40" x2="479.91" y2="538.90" stroke="#333" stroke-width="1.0"/>
<line x1="503.42" y1="536.40" x2="503.42" y2="540.40" stroke="#333" stroke-width="1.0"/>
<text transform="translate(503.42,553.60) scale(1,1.07)" x="0" y="0" font-family='"Liberation Serif", serif' font-size="13" font-weight="bold" text-anchor="middle" fill="#000" >0.2</text>
<line x1="526.93" y1="536.40" x2="526.93" y2="538.90" stroke="#333" stroke-width="1.0"/>
<line x1="550.44" y1="536.40" x2="550.44" y2="540.40" stroke="#333" stroke-width="1.0"/>
<text transform="translate(550.44,553.60) scale(1,1.07)" x="0" y="0" font-family='"Liberation Serif", serif' font-size="13" font-weight="bold" text-anchor="middle" fill="#000" >0.4</text>
<line x1="573.95" y1="536.40" x2="573.95" y2="538.90" stroke="#333" stroke-width="1.0"/>
<line x1="597.46" y1="536.40" x2="597.46" y2="540.40" stroke="#333" stroke-width="1.0"/>
<text transform="translate(597.46,553.60) scale(1,1.07)" x="0" y="0" font-family='"Liberation Serif", serif' font-size="13" font-weight="bold" text-anchor="middle" fill="#000" >0.6</text>
<line x1="620.97" y1="536.40" x2="620.97" y2="538.90" stroke="#333" stroke-width="1.0"/>
<line x1="644.48" y1="536.40" x2="644.48" y2="540.40" stroke="#333" stroke-width="1.0"/>
<text transform="translate(644.48,553.60) scale(1,1.07)" x="0" y="0" font-family='"Liberation Serif", serif' font-size="13" font-weight="bold" text-anchor="middle" fill="#000" >0.8</text>
<line x1="667.99" y1="536.40" x2="667.99" y2="538.90" stroke="#333" stroke-width="1.0"/>
<line x1="691.50" y1="536.40" x2="691.50" y2="540.40" stroke="#333" stroke-width="1.0"/>
<text transform="translate(691.50,553.60) scale(1,1.07)" x="0" y="0" font-family='"Liberation Serif", serif' font-size="13" font-weight="bold" text-anchor="middle" fill="#000" >1.0</text>
<line x1="715.01" y1="536.40" x2="715.01" y2="538.90" stroke="#333" stroke-width="1.0"/>
<line x1="738.52" y1="536.40" x2="738.52" y2="540.40" stroke="#333" stroke-width="1.0"/>
<text transform="translate(738.52,553.60) scale(1,1.07)" x="0" y="0" font-family='"Liberation Serif", serif' font-size="13" font-weight="bold" text-anchor="middle" fill="#000" >1.2</text>
<text x="597.46" y="575.30" font-family='"Liberation Serif", serif' font-size="13.7" font-weight="bold" text-anchor="middle" fill="#000" >Concentration (&#956;M)</text>
<text transform="translate(421.40,439.10) rotate(-90)" x="0" y="0" font-family='"Liberation Serif", serif' font-size="13.7" font-weight="bold" text-anchor="middle" fill="#000" stroke="#000" stroke-width="0.1">Uptake of compound (nmol / mg protein)</text>
<text transform="translate(392.00,316.00) scale(1,1.03)" x="0" y="0" font-family='"Liberation Serif", serif' font-size="16.5" font-weight="bold" text-anchor="start" fill="#000" >E</text>
<path d="M479.91,509.34 L526.93,501.98 L597.46,495.67 L644.48,484.90 L691.50,473.60" fill="none" stroke="#111111" stroke-width="1.1"/>
<line x1="479.91" y1="504.34" x2="479.91" y2="514.34" stroke="#111111" stroke-width="0.9"/>
<line x1="477.41" y1="504.34" x2="482.41" y2="504.34" stroke="#111111" stroke-width="1.0"/>
<line x1="477.41" y1="514.34" x2="482.41" y2="514.34" stroke="#111111" stroke-width="1.0"/>
<line x1="526.93" y1="498.98" x2="526.93" y2="504.98" stroke="#111111" stroke-width="0.9"/>
<line x1="524.43" y1="498.98" x2="529.43" y2="498.98" stroke="#111111" stroke-width="1.0"/>
<line x1="524.43" y1="504.98" x2="529.43" y2="504.98" stroke="#111111" stroke-width="1.0"/>
<line x1="597.46" y1="490.07" x2="597.46" y2="501.27" stroke="#111111" stroke-width="0.9"/>
<line x1="594.96" y1="490.07" x2="599.96" y2="490.07" stroke="#111111" stroke-width="1.0"/>
<line x1="594.96" y1="501.27" x2="599.96" y2="501.27" stroke="#111111" stroke-width="1.0"/>
<line x1="644.48" y1="478.40" x2="644.48" y2="491.40" stroke="#111111" stroke-width="0.9"/>
<line x1="641.98" y1="478.40" x2="646.98" y2="478.40" stroke="#111111" stroke-width="1.0"/>
<line x1="641.98" y1="491.40" x2="646.98" y2="491.40" stroke="#111111" stroke-width="1.0"/>
<line x1="691.50" y1="464.60" x2="691.50" y2="482.60" stroke="#111111" stroke-width="0.9"/>
<line x1="689.00" y1="464.60" x2="694.00" y2="464.60" stroke="#111111" stroke-width="1.0"/>
<line x1="689.00" y1="482.60" x2="694.00" y2="482.60" stroke="#111111" stroke-width="1.0"/>
<rect x="477.46" y="506.89" width="4.9" height="4.9" fill="#111111"/>
<rect x="524.48" y="499.53" width="4.9" height="4.9" fill="#111111"/>
<rect x="595.01" y="493.22" width="4.9" height="4.9" fill="#111111"/>
<rect x="642.03" y="482.45" width="4.9" height="4.9" fill="#111111"/>
<rect x="689.05" y="471.15" width="4.9" height="4.9" fill="#111111"/>
<path d="M479.91,509.34 L526.93,500.40 L597.46,484.11 L644.48,458.10 L691.50,433.93" fill="none" stroke="#e8101c" stroke-width="1.1"/>
<line x1="479.91" y1="505.34" x2="479.91" y2="513.34" stroke="#e8101c" stroke-width="0.9"/>
<line x1="477.41" y1="505.34" x2="482.41" y2="505.34" stroke="#e8101c" stroke-width="1.0"/>
<line x1="477.41" y1="513.34" x2="482.41" y2="513.34" stroke="#e8101c" stroke-width="1.0"/>
<line x1="526.93" y1="496.40" x2="526.93" y2="504.40" stroke="#e8101c" stroke-width="0.9"/>
<line x1="524.43" y1="496.40" x2="529.43" y2="496.40" stroke="#e8101c" stroke-width="1.0"/>
<line x1="524.43" y1="504.40" x2="529.43" y2="504.40" stroke="#e8101c" stroke-width="1.0"/>
<line x1="597.46" y1="480.61" x2="597.46" y2="487.61" stroke="#e8101c" stroke-width="0.9"/>
<line x1="594.96" y1="480.61" x2="599.96" y2="480.61" stroke="#e8101c" stroke-width="1.0"/>
<line x1="594.96" y1="487.61" x2="599.96" y2="487.61" stroke="#e8101c" stroke-width="1.0"/>
<line x1="644.48" y1="450.10" x2="644.48" y2="466.10" stroke="#e8101c" stroke-width="0.9"/>
<line x1="641.98" y1="450.10" x2="646.98" y2="450.10" stroke="#e8101c" stroke-width="1.0"/>
<line x1="641.98" y1="466.10" x2="646.98" y2="466.10" stroke="#e8101c" stroke-width="1.0"/>
<line x1="691.50" y1="429.93" x2="691.50" y2="437.93" stroke="#e8101c" stroke-width="0.9"/>
<line x1="689.00" y1="429.93" x2="694.00" y2="429.93" stroke="#e8101c" stroke-width="1.0"/>
<line x1="689.00" y1="437.93" x2="694.00" y2="437.93" stroke="#e8101c" stroke-width="1.0"/>
<circle cx="479.91" cy="509.34" r="2.75" fill="#e8101c"/>
<circle cx="526.93" cy="500.40" r="2.75" fill="#e8101c"/>
<circle cx="597.46" cy="484.11" r="2.75" fill="#e8101c"/>
<circle cx="644.48" cy="458.10" r="2.75" fill="#e8101c"/>
<circle cx="691.50" cy="433.93" r="2.75" fill="#e8101c"/>
<path d="M479.91,508.55 L526.93,496.20 L597.46,467.56 L644.48,432.88 L691.50,382.95" fill="none" stroke="#1a1ae0" stroke-width="1.1"/>
<line x1="479.91" y1="502.55" x2="479.91" y2="514.55" stroke="#1a1ae0" stroke-width="0.9"/>
<line x1="477.41" y1="502.55" x2="482.41" y2="502.55" stroke="#1a1ae0" stroke-width="1.0"/>
<line x1="477.41" y1="514.55" x2="482.41" y2="514.55" stroke="#1a1ae0" stroke-width="1.0"/>
<line x1="526.93" y1="487.90" x2="526.93" y2="504.50" stroke="#1a1ae0" stroke-width="0.9"/>
<line x1="524.43" y1="487.90" x2="529.43" y2="487.90" stroke="#1a1ae0" stroke-width="1.0"/>
<line x1="524.43" y1="504.50" x2="529.43" y2="504.50" stroke="#1a1ae0" stroke-width="1.0"/>
<line x1="597.46" y1="464.06" x2="597.46" y2="471.06" stroke="#1a1ae0" stroke-width="0.9"/>
<line x1="594.96" y1="464.06" x2="599.96" y2="464.06" stroke="#1a1ae0" stroke-width="1.0"/>
<line x1="594.96" y1="471.06" x2="599.96" y2="471.06" stroke="#1a1ae0" stroke-width="1.0"/>
<line x1="644.48" y1="424.88" x2="644.48" y2="440.88" stroke="#1a1ae0" stroke-width="0.9"/>
<line x1="641.98" y1="424.88" x2="646.98" y2="424.88" stroke="#1a1ae0" stroke-width="1.0"/>
<line x1="641.98" y1="440.88" x2="646.98" y2="440.88" stroke="#1a1ae0" stroke-width="1.0"/>
<line x1="691.50" y1="376.95" x2="691.50" y2="388.95" stroke="#1a1ae0" stroke-width="0.9"/>
<line x1="689.00" y1="376.95" x2="694.00" y2="376.95" stroke="#1a1ae0" stroke-width="1.0"/>
<line x1="689.00" y1="388.95" x2="694.00" y2="388.95" stroke="#1a1ae0" stroke-width="1.0"/>
<path d="M476.71,511.05 L483.11,511.05 L479.91,505.45 Z" fill="#1a1ae0"/>
<path d="M523.73,498.70 L530.13,498.70 L526.93,493.10 Z" fill="#1a1ae0"/>
<path d="M594.26,470.06 L600.66,470.06 L597.46,464.46 Z" fill="#1a1ae0"/>
<path d="M641.28,435.38 L647.68,435.38 L644.48,429.78 Z" fill="#1a1ae0"/>
<path d="M688.30,385.45 L694.70,385.45 L691.50,379.85 Z" fill="#1a1ae0"/>
<rect x="485.00" y="326.00" width="76.50" height="39.60" fill="#fff" stroke="#808080" stroke-width="1.1"/>
<line x1="485.00" y1="332.80" x2="494.00" y2="332.80" stroke="#111111" stroke-width="1.1"/>
<line x1="500.50" y1="332.80" x2="508.00" y2="332.80" stroke="#111111" stroke-width="1.1"/>
<rect x="494.65" y="330.35" width="4.9" height="4.9" fill="#111111"/>
<text transform="translate(511.10,336.70) scale(1,1.05)" x="0" y="0" font-family='"Liberation Serif", serif' font-size="11.1" font-weight="bold" text-anchor="start" fill="#000" stroke="#000" stroke-width="0.25">7-Q20 (2h)</text>
<line x1="485.00" y1="346.10" x2="494.00" y2="346.10" stroke="#e8101c" stroke-width="1.1"/>
<line x1="500.50" y1="346.10" x2="508.00" y2="346.10" stroke="#e8101c" stroke-width="1.1"/>
<circle cx="497.10" cy="346.10" r="2.75" fill="#e8101c"/>
<text transform="translate(511.10,350.00) scale(1,1.05)" x="0" y="0" font-family='"Liberation Serif", serif' font-size="11.1" font-weight="bold" text-anchor="start" fill="#000" stroke="#000" stroke-width="0.25">7-Q20 (4h)</text>
<line x1="485.00" y1="359.40" x2="494.00" y2="359.40" stroke="#1a1ae0" stroke-width="1.1"/>
<line x1="500.50" y1="359.40" x2="508.00" y2="359.40" stroke="#1a1ae0" stroke-width="1.1"/>
<path d="M493.90,361.90 L500.30,361.90 L497.10,356.30 Z" fill="#1a1ae0"/>
<text transform="translate(511.10,363.30) scale(1,1.05)" x="0" y="0" font-family='"Liberation Serif", serif' font-size="11.1" font-weight="bold" text-anchor="start" fill="#000" stroke="#000" stroke-width="0.25">7-Q20 (8h)</text>
<line x1="456.40" y1="632.40" x2="456.40" y2="846.90" stroke="#222" stroke-width="1.0"/>
<line x1="456.40" y1="842.90" x2="738.52" y2="842.90" stroke="#222" stroke-width="1.0"/>
<line x1="452.40" y1="842.90" x2="456.40" y2="842.90" stroke="#333" stroke-width="1.0"/>
<text transform="translate(448.80,847.20) scale(1,1.1)" x="0" y="0" font-family='"Liberation Serif", serif' font-size="12.5" font-weight="bold" text-anchor="end" fill="#000" >-0.1</text>
<line x1="453.90" y1="821.85" x2="456.40" y2="821.85" stroke="#333" stroke-width="1.0"/>
<line x1="452.40" y1="800.80" x2="456.40" y2="800.80" stroke="#333" stroke-width="1.0"/>
<text transform="translate(448.80,805.10) scale(1,1.1)" x="0" y="0" font-family='"Liberation Serif", serif' font-size="12.5" font-weight="bold" text-anchor="end" fill="#000" >0.0</text>
<line x1="453.90" y1="779.75" x2="456.40" y2="779.75" stroke="#333" stroke-width="1.0"/>
<line x1="452.40" y1="758.70" x2="456.40" y2="758.70" stroke="#333" stroke-width="1.0"/>
<text transform="translate(448.80,763.00) scale(1,1.1)" x="0" y="0" font-family='"Liberation Serif", serif' font-size="12.5" font-weight="bold" text-anchor="end" fill="#000" >0.1</text>
<line x1="453.90" y1="737.65" x2="456.40" y2="737.65" stroke="#333" stroke-width="1.0"/>
<line x1="452.40" y1="716.60" x2="456.40" y2="716.60" stroke="#333" stroke-width="1.0"/>
<text transform="translate(448.80,720.90) scale(1,1.1)" x="0" y="0" font-family='"Liberation Serif", serif' font-size="12.5" font-weight="bold" text-anchor="end" fill="#000" >0.2</text>
<line x1="453.90" y1="695.55" x2="456.40" y2="695.55" stroke="#333" stroke-width="1.0"/>
<line x1="452.40" y1="674.50" x2="456.40" y2="674.50" stroke="#333" stroke-width="1.0"/>
<text transform="translate(448.80,678.80) scale(1,1.1)" x="0" y="0" font-family='"Liberation Serif", serif' font-size="12.5" font-weight="bold" text-anchor="end" fill="#000" >0.3</text>
<line x1="453.90" y1="653.45" x2="456.40" y2="653.45" stroke="#333" stroke-width="1.0"/>
<line x1="452.40" y1="632.40" x2="456.40" y2="632.40" stroke="#333" stroke-width="1.0"/>
<text transform="translate(448.80,636.70) scale(1,1.1)" x="0" y="0" font-family='"Liberation Serif", serif' font-size="12.5" font-weight="bold" text-anchor="end" fill="#000" >0.4</text>
<line x1="456.40" y1="842.90" x2="456.40" y2="846.90" stroke="#333" stroke-width="1.0"/>
<text transform="translate(456.40,860.10) scale(1,1.07)" x="0" y="0" font-family='"Liberation Serif", serif' font-size="13" font-weight="bold" text-anchor="middle" fill="#000" >0.0</text>
<line x1="479.91" y1="842.90" x2="479.91" y2="845.40" stroke="#333" stroke-width="1.0"/>
<line x1="503.42" y1="842.90" x2="503.42" y2="846.90" stroke="#333" stroke-width="1.0"/>
<text transform="translate(503.42,860.10) scale(1,1.07)" x="0" y="0" font-family='"Liberation Serif", serif' font-size="13" font-weight="bold" text-anchor="middle" fill="#000" >0.2</text>
<line x1="526.93" y1="842.90" x2="526.93" y2="845.40" stroke="#333" stroke-width="1.0"/>
<line x1="550.44" y1="842.90" x2="550.44" y2="846.90" stroke="#333" stroke-width="1.0"/>
<text transform="translate(550.44,860.10) scale(1,1.07)" x="0" y="0" font-family='"Liberation Serif", serif' font-size="13" font-weight="bold" text-anchor="middle" fill="#000" >0.4</text>
<line x1="573.95" y1="842.90" x2="573.95" y2="845.40" stroke="#333" stroke-width="1.0"/>
<line x1="597.46" y1="842.90" x2="597.46" y2="846.90" stroke="#333" stroke-width="1.0"/>
<text transform="translate(597.46,860.10) scale(1,1.07)" x="0" y="0" font-family='"Liberation Serif", serif' font-size="13" font-weight="bold" text-anchor="middle" fill="#000" >0.6</text>
<line x1="620.97" y1="842.90" x2="620.97" y2="845.40" stroke="#333" stroke-width="1.0"/>
<line x1="644.48" y1="842.90" x2="644.48" y2="846.90" stroke="#333" stroke-width="1.0"/>
<text transform="translate(644.48,860.10) scale(1,1.07)" x="0" y="0" font-family='"Liberation Serif", serif' font-size="13" font-weight="bold" text-anchor="middle" fill="#000" >0.8</text>
<line x1="667.99" y1="842.90" x2="667.99" y2="845.40" stroke="#333" stroke-width="1.0"/>
<line x1="691.50" y1="842.90" x2="691.50" y2="846.90" stroke="#333" stroke-width="1.0"/>
<text transform="translate(691.50,860.10) scale(1,1.07)" x="0" y="0" font-family='"Liberation Serif", serif' font-size="13" font-weight="bold" text-anchor="middle" fill="#000" >1.0</text>
<line x1="715.01" y1="842.90" x2="715.01" y2="845.40" stroke="#333" stroke-width="1.0"/>
<line x1="738.52" y1="842.90" x2="738.52" y2="846.90" stroke="#333" stroke-width="1.0"/>
<text transform="translate(738.52,860.10) scale(1,1.07)" x="0" y="0" font-family='"Liberation Serif", serif' font-size="13" font-weight="bold" text-anchor="middle" fill="#000" >1.2</text>
<text x="597.46" y="881.80" font-family='"Liberation Serif", serif' font-size="13.7" font-weight="bold" text-anchor="middle" fill="#000" >Concentration (&#956;M)</text>
<text transform="translate(421.40,746.40) rotate(-90)" x="0" y="0" font-family='"Liberation Serif", serif' font-size="13.7" font-weight="bold" text-anchor="middle" fill="#000" stroke="#000" stroke-width="0.1">Uptake of compound (nmol / mg protein)</text>
<text transform="translate(392.00,626.50) scale(1,1.03)" x="0" y="0" font-family='"Liberation Serif", serif' font-size="16.5" font-weight="bold" text-anchor="start" fill="#000" >F</text>
<path d="M479.91,800.80 L526.93,789.43 L597.46,781.43 L644.48,766.70 L691.50,758.28" fill="none" stroke="#111111" stroke-width="1.1"/>
<line x1="479.91" y1="795.80" x2="479.91" y2="805.80" stroke="#111111" stroke-width="0.9"/>
<line x1="477.41" y1="795.80" x2="482.41" y2="795.80" stroke="#111111" stroke-width="1.0"/>
<line x1="477.41" y1="805.80" x2="482.41" y2="805.80" stroke="#111111" stroke-width="1.0"/>
<line x1="526.93" y1="784.43" x2="526.93" y2="794.43" stroke="#111111" stroke-width="0.9"/>
<line x1="524.43" y1="784.43" x2="529.43" y2="784.43" stroke="#111111" stroke-width="1.0"/>
<line x1="524.43" y1="794.43" x2="529.43" y2="794.43" stroke="#111111" stroke-width="1.0"/>
<line x1="597.46" y1="772.43" x2="597.46" y2="790.43" stroke="#111111" stroke-width="0.9"/>
<line x1="594.96" y1="772.43" x2="599.96" y2="772.43" stroke="#111111" stroke-width="1.0"/>
<line x1="594.96" y1="790.43" x2="599.96" y2="790.43" stroke="#111111" stroke-width="1.0"/>
<line x1="644.48" y1="762.20" x2="644.48" y2="771.20" stroke="#111111" stroke-width="0.9"/>
<line x1="641.98" y1="762.20" x2="646.98" y2="762.20" stroke="#111111" stroke-width="1.0"/>
<line x1="641.98" y1="771.20" x2="646.98" y2="771.20" stroke="#111111" stroke-width="1.0"/>
<line x1="691.50" y1="749.78" x2="691.50" y2="766.78" stroke="#111111" stroke-width="0.9"/>
<line x1="689.00" y1="749.78" x2="694.00" y2="749.78" stroke="#111111" stroke-width="1.0"/>
<line x1="689.00" y1="766.78" x2="694.00" y2="766.78" stroke="#111111" stroke-width="1.0"/>
<rect x="477.46" y="798.35" width="4.9" height="4.9" fill="#111111"/>
<rect x="524.48" y="786.98" width="4.9" height="4.9" fill="#111111"/>
<rect x="595.01" y="778.98" width="4.9" height="4.9" fill="#111111"/>
<rect x="642.03" y="764.25" width="4.9" height="4.9" fill="#111111"/>
<rect x="689.05" y="755.83" width="4.9" height="4.9" fill="#111111"/>
<path d="M479.91,799.96 L526.93,787.75 L597.46,771.75 L644.48,745.65 L691.50,715.76" fill="none" stroke="#e8101c" stroke-width="1.1"/>
<line x1="479.91" y1="795.96" x2="479.91" y2="803.96" stroke="#e8101c" stroke-width="0.9"/>
<line x1="477.41" y1="795.96" x2="482.41" y2="795.96" stroke="#e8101c" stroke-width="1.0"/>
<line x1="477.41" y1="803.96" x2="482.41" y2="803.96" stroke="#e8101c" stroke-width="1.0"/>
<line x1="526.93" y1="783.75" x2="526.93" y2="791.75" stroke="#e8101c" stroke-width="0.9"/>
<line x1="524.43" y1="783.75" x2="529.43" y2="783.75" stroke="#e8101c" stroke-width="1.0"/>
<line x1="524.43" y1="791.75" x2="529.43" y2="791.75" stroke="#e8101c" stroke-width="1.0"/>
<line x1="597.46" y1="766.75" x2="597.46" y2="776.75" stroke="#e8101c" stroke-width="0.9"/>
<line x1="594.96" y1="766.75" x2="599.96" y2="766.75" stroke="#e8101c" stroke-width="1.0"/>
<line x1="594.96" y1="776.75" x2="599.96" y2="776.75" stroke="#e8101c" stroke-width="1.0"/>
<line x1="644.48" y1="741.15" x2="644.48" y2="750.15" stroke="#e8101c" stroke-width="0.9"/>
<line x1="641.98" y1="741.15" x2="646.98" y2="741.15" stroke="#e8101c" stroke-width="1.0"/>
<line x1="641.98" y1="750.15" x2="646.98" y2="750.15" stroke="#e8101c" stroke-width="1.0"/>
<line x1="691.50" y1="711.26" x2="691.50" y2="720.26" stroke="#e8101c" stroke-width="0.9"/>
<line x1="689.00" y1="711.26" x2="694.00" y2="711.26" stroke="#e8101c" stroke-width="1.0"/>
<line x1="689.00" y1="720.26" x2="694.00" y2="720.26" stroke="#e8101c" stroke-width="1.0"/>
<circle cx="479.91" cy="799.96" r="2.75" fill="#e8101c"/>
<circle cx="526.93" cy="787.75" r="2.75" fill="#e8101c"/>
<circle cx="597.46" cy="771.75" r="2.75" fill="#e8101c"/>
<circle cx="644.48" cy="745.65" r="2.75" fill="#e8101c"/>
<circle cx="691.50" cy="715.76" r="2.75" fill="#e8101c"/>
<path d="M479.91,794.49 L526.93,778.91 L597.46,762.49 L644.48,737.23 L691.50,702.71" fill="none" stroke="#1a1ae0" stroke-width="1.1"/>
<line x1="479.91" y1="790.49" x2="479.91" y2="798.49" stroke="#1a1ae0" stroke-width="0.9"/>
<line x1="477.41" y1="790.49" x2="482.41" y2="790.49" stroke="#1a1ae0" stroke-width="1.0"/>
<line x1="477.41" y1="798.49" x2="482.41" y2="798.49" stroke="#1a1ae0" stroke-width="1.0"/>
<line x1="526.93" y1="774.91" x2="526.93" y2="782.91" stroke="#1a1ae0" stroke-width="0.9"/>
<line x1="524.43" y1="774.91" x2="529.43" y2="774.91" stroke="#1a1ae0" stroke-width="1.0"/>
<line x1="524.43" y1="782.91" x2="529.43" y2="782.91" stroke="#1a1ae0" stroke-width="1.0"/>
<line x1="597.46" y1="753.49" x2="597.46" y2="771.49" stroke="#1a1ae0" stroke-width="0.9"/>
<line x1="594.96" y1="753.49" x2="599.96" y2="753.49" stroke="#1a1ae0" stroke-width="1.0"/>
<line x1="594.96" y1="771.49" x2="599.96" y2="771.49" stroke="#1a1ae0" stroke-width="1.0"/>
<line x1="644.48" y1="728.23" x2="644.48" y2="746.23" stroke="#1a1ae0" stroke-width="0.9"/>
<line x1="641.98" y1="728.23" x2="646.98" y2="728.23" stroke="#1a1ae0" stroke-width="1.0"/>
<line x1="641.98" y1="746.23" x2="646.98" y2="746.23" stroke="#1a1ae0" stroke-width="1.0"/>
<line x1="691.50" y1="689.21" x2="691.50" y2="716.21" stroke="#1a1ae0" stroke-width="0.9"/>
<line x1="689.00" y1="689.21" x2="694.00" y2="689.21" stroke="#1a1ae0" stroke-width="1.0"/>
<line x1="689.00" y1="716.21" x2="694.00" y2="716.21" stroke="#1a1ae0" stroke-width="1.0"/>
<path d="M476.71,796.99 L483.11,796.99 L479.91,791.38 Z" fill="#1a1ae0"/>
<path d="M523.73,781.41 L530.13,781.41 L526.93,775.81 Z" fill="#1a1ae0"/>
<path d="M594.26,764.99 L600.66,764.99 L597.46,759.39 Z" fill="#1a1ae0"/>
<path d="M641.28,739.73 L647.68,739.73 L644.48,734.13 Z" fill="#1a1ae0"/>
<path d="M688.30,705.21 L694.70,705.21 L691.50,699.61 Z" fill="#1a1ae0"/>
<rect x="484.20" y="632.20" width="96.30" height="40.20" fill="#fff" stroke="#808080" stroke-width="1.1"/>
<line x1="484.20" y1="639.00" x2="507.60" y2="639.00" stroke="#111111" stroke-width="1.25"/>
<rect x="493.85" y="636.55" width="4.9" height="4.9" fill="#111111"/>
<text transform="translate(510.30,642.90) scale(1,1.05)" x="0" y="0" font-family='"Liberation Serif", serif' font-size="11.1" font-weight="bold" text-anchor="start" fill="#000" stroke="#000" stroke-width="0.25">val-FL118 (2h)</text>
<line x1="484.20" y1="652.30" x2="507.60" y2="652.30" stroke="#e8101c" stroke-width="1.25"/>
<circle cx="496.30" cy="652.30" r="2.75" fill="#e8101c"/>
<text transform="translate(510.30,656.20) scale(1,1.05)" x="0" y="0" font-family='"Liberation Serif", serif' font-size="11.1" font-weight="bold" text-anchor="start" fill="#000" stroke="#000" stroke-width="0.25">val-FL118 (4h)</text>
<line x1="484.20" y1="665.60" x2="507.60" y2="665.60" stroke="#1a1ae0" stroke-width="1.25"/>
<path d="M493.10,668.10 L499.50,668.10 L496.30,662.50 Z" fill="#1a1ae0"/>
<text transform="translate(510.30,669.50) scale(1,1.05)" x="0" y="0" font-family='"Liberation Serif", serif' font-size="11.1" font-weight="bold" text-anchor="start" fill="#000" stroke="#000" stroke-width="0.25">val-FL118 (8h)</text>
</svg>
</body></html>
